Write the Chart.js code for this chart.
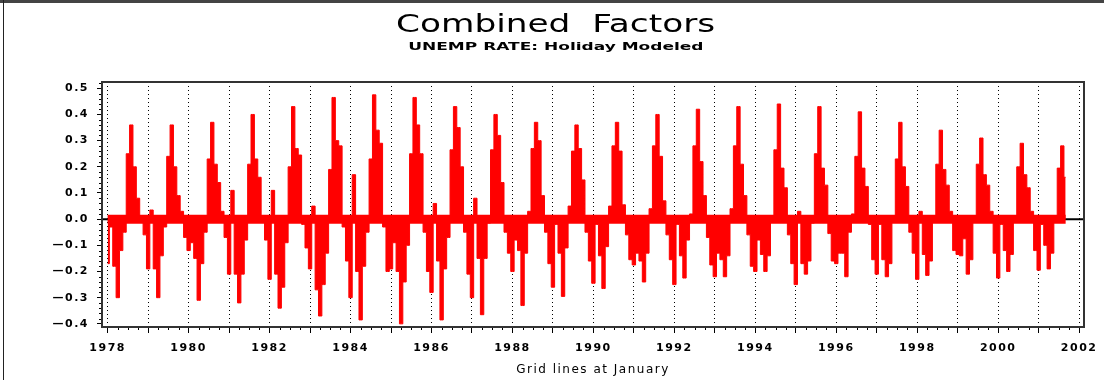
<!DOCTYPE html>
<html>
<head>
<meta charset="utf-8">
<script src="https://cdn.jsdelivr.net/npm/chart.js@4.4.0/dist/chart.umd.min.js"></script>
<style>
  html, body { margin: 0; padding: 0; background: #fff; }
  #wrap { position: relative; width: 1104px; height: 380px; overflow: hidden; }
  #frameTop { position: absolute; left: 0; top: 0; width: 1104px; height: 3px; background: #444; }
  #frameLeft { position: absolute; left: 3px; top: 0; width: 1px; height: 380px; background: #222; }
  .title { position: absolute; left: 4px; width: 1104px; text-align: center; white-space: nowrap; color: #000; }
  .title span { display: inline-block; }
  #t1 { top: 9px; font: 24px "DejaVu Sans", sans-serif; line-height: 30px; }
  #t1 span { transform: scaleX(1.43); }
  #t2 { top: 40px; font: bold 10px "DejaVu Sans", sans-serif; line-height: 14px; }
  #t2 span { transform: scaleX(1.7); }
  canvas { position: absolute; left: 0; top: 0; }
</style>
</head>
<body>
<div id="wrap">
  <canvas id="factors-chart" width="1104" height="380"></canvas>
  <div id="frameTop"></div>
  <div id="frameLeft"></div>
  <div class="title" id="t1"><span>Combined&nbsp; Factors</span></div>
  <div class="title" id="t2"><span>UNEMP RATE: Holiday Modeled</span></div>
</div>
<script>
// monthly combined factors, Jan 1978 .. Sep 2001
const startYear = 1978;
const factorValues = [
    -0.17, -0.03, -0.18, -0.30, -0.12, -0.05, 0.25, 0.36, 0.20, 0.08, 0.01, -0.06,      // 1978
    -0.19, 0.035, -0.19, -0.30, -0.14, -0.03, 0.24, 0.36, 0.20, 0.09, 0.03, -0.07,      // 1979
    -0.12, -0.09, -0.15, -0.31, -0.17, -0.05, 0.23, 0.37, 0.21, 0.14, 0.03, -0.07,      // 1980
    -0.21, 0.11, -0.21, -0.32, -0.21, -0.08, 0.21, 0.40, 0.23, 0.16, 0.01, -0.08,       // 1981
    -0.23, 0.11, -0.21, -0.34, -0.26, -0.09, 0.20, 0.43, 0.27, 0.245, -0.02, -0.11,     // 1982
    -0.19, 0.05, -0.27, -0.37, -0.25, -0.13, 0.19, 0.465, 0.30, 0.28, -0.03, -0.16,     // 1983
    -0.30, 0.17, -0.20, -0.385, -0.18, -0.05, 0.23, 0.475, 0.34, 0.29, -0.03, -0.20,    // 1984
    -0.19, -0.09, -0.20, -0.40, -0.24, -0.10, 0.25, 0.465, 0.36, 0.25, -0.05, -0.20,    // 1985
    -0.28, 0.06, -0.16, -0.385, -0.19, -0.07, 0.265, 0.43, 0.35, 0.20, -0.05, -0.21,    // 1986
    -0.30, 0.08, -0.15, -0.365, -0.15, -0.015, 0.265, 0.40, 0.32, 0.14, -0.05, -0.13,   // 1987
    -0.20, -0.08, -0.12, -0.33, -0.13, 0.03, 0.27, 0.37, 0.30, 0.09, -0.05, -0.17,      // 1988
    -0.26, -0.02, -0.13, -0.295, -0.11, 0.05, 0.26, 0.36, 0.27, 0.15, -0.05, -0.16,     // 1989
    -0.245, -0.02, -0.14, -0.265, -0.105, 0.05, 0.28, 0.37, 0.26, 0.055, -0.06, -0.155, // 1990
    -0.175, -0.13, -0.16, -0.24, -0.13, 0.04, 0.28, 0.40, 0.24, 0.07, -0.06, -0.155,    // 1991
    -0.25, -0.02, -0.14, -0.225, -0.08, 0.02, 0.28, 0.42, 0.22, 0.09, -0.07, -0.175,    // 1992
    -0.22, -0.13, -0.155, -0.22, -0.14, 0.04, 0.28, 0.43, 0.21, 0.09, -0.06, -0.18,     // 1993
    -0.20, -0.08, -0.135, -0.20, -0.14, -0.01, 0.265, 0.44, 0.195, 0.12, -0.06, -0.17,  // 1994
    -0.25, 0.03, -0.17, -0.21, -0.16, -0.015, 0.25, 0.43, 0.195, 0.13, -0.055, -0.16,   // 1995
    -0.17, -0.13, -0.13, -0.22, -0.05, 0.02, 0.24, 0.41, 0.195, 0.125, -0.02, -0.155,   // 1996
    -0.21, -0.02, -0.155, -0.22, -0.17, 0.01, 0.23, 0.37, 0.20, 0.125, -0.05, -0.13,    // 1997
    -0.23, 0.03, -0.135, -0.215, -0.16, -0.01, 0.21, 0.34, 0.19, 0.13, 0.03, -0.12,     // 1998
    -0.135, -0.14, -0.075, -0.21, -0.155, -0.01, 0.21, 0.31, 0.17, 0.13, 0.03, -0.13,   // 1999
    -0.225, -0.02, -0.12, -0.20, -0.135, -0.01, 0.20, 0.29, 0.17, 0.12, 0.03, -0.12,    // 2000
    -0.195, -0.02, -0.10, -0.19, -0.13, -0.01, 0.195, 0.28, 0.16                        // 2001
];
const labelYears = [1978, 1980, 1982, 1984, 1986, 1988, 1990, 1992, 1994, 1996, 1998, 2000, 2002];
const yTickValues = [-0.4, -0.3, -0.2, -0.1, 0.0, 0.1, 0.2, 0.3, 0.4, 0.5];

let points = factorValues.map((v, i) => ({ x: startYear + i / 12, y: v }));
let band = [{ x: points[0].x, y: 0 }, { x: points[points.length - 1].x, y: 0 }];

Chart.defaults.font.family = '"DejaVu Sans", sans-serif';
Chart.defaults.color = '#000';

// zero line, minor ticks and the plot box
const framePlugin = {
    id: 'framePlugin',
    beforeDraw(chart) {
        chart.ctx.letterSpacing = '1.5px';
    },
    beforeDatasetsDraw(chart) {
        const { ctx, chartArea: a, scales: { y } } = chart;
        let y0 = y.getPixelForValue(0);
        ctx.save();
        ctx.strokeStyle = '#000';
        ctx.lineWidth = 2;
        ctx.beginPath();
        ctx.moveTo(a.left, y0);
        ctx.lineTo(a.right, y0);
        ctx.stroke();
        ctx.restore();
    },
    afterDraw(chart) {
        const { ctx, chartArea: a, scales: { x, y } } = chart;
        ctx.save();
        ctx.strokeStyle = '#000';
        ctx.lineWidth = 1;
        ctx.beginPath();
        for (let yr = Math.floor(x.min); yr < x.max; yr++) {
            for (let q = 1; q < 4; q++) {
                let v = yr + q / 4;
                if (v < x.min || v > x.max) continue;
                let px = Math.round(x.getPixelForValue(v)) + 0.5;
                ctx.moveTo(px, a.bottom);
                ctx.lineTo(px, a.bottom + 3);
            }
        }
        for (let k = -21; k <= 26; k++) {
            if (k % 5 === 0) continue;
            let v = k * 0.02;
            if (v < y.min || v > y.max) continue;
            let py = Math.round(y.getPixelForValue(v)) + 0.5;
            ctx.moveTo(a.left - 3, py);
            ctx.lineTo(a.left, py);
        }
        ctx.stroke();
        ctx.strokeStyle = '#333';
        ctx.lineWidth = 2;
        ctx.strokeRect(a.left, a.top, a.right - a.left, a.bottom - a.top);
        ctx.restore();
    }
};

let chart = new Chart(document.getElementById('factors-chart').getContext('2d'), {
    type: 'line',
    data: {
        datasets: [{
            // needles drawn as a stepped area down to zero
            data: points,
            stepped: 'middle',
            fill: 'origin',
            backgroundColor: '#ff0000',
            borderColor: '#ff0000',
            borderWidth: 1,
            pointRadius: 0,
            order: 1
        }, {
            data: band,
            borderColor: '#ff0000',
            borderWidth: 9,
            pointRadius: 0,
            borderCapStyle: 'butt',
            fill: false,
            order: 2
        }]
    },
    options: {
        responsive: false,
        devicePixelRatio: 1,
        animation: false,
        layout: { padding: { left: 0, right: 20, top: 82, bottom: 0 } },
        plugins: {
            legend: { display: false },
            title: { display: false },
            tooltip: { enabled: false }
        },
        scales: {
            x: {
                type: 'linear',
                position: 'bottom',
                min: 1977.86,
                max: 2002.12,
                grid: {
                    color: '#000',
                    lineWidth: 1,
                    drawTicks: true,
                    tickLength: 6,
                    tickColor: '#000',
                    tickBorderDash: []
                },
                border: { display: false, dash: [1, 3] },
                ticks: {
                    stepSize: 1,
                    includeBounds: false,
                    autoSkip: false,
                    maxRotation: 0,
                    padding: 9,
                    font: { size: 11, weight: 'bold' },
                    callback: (v) => labelYears.includes(v) ? String(v) : ''
                },
                title: {
                    display: true,
                    text: 'Grid lines at January',
                    font: { size: 12 },
                    padding: { top: 0, bottom: 3 }
                },
                afterFit: (s) => { s.height = 53; }
            },
            y: {
                type: 'linear',
                min: -0.412,
                max: 0.524,
                grid: {
                    drawOnChartArea: false,
                    drawTicks: true,
                    tickLength: 5,
                    tickColor: '#000'
                },
                border: { display: false },
                afterBuildTicks: (s) => { s.ticks = yTickValues.map(v => ({ value: v })); },
                ticks: {
                    padding: 8,
                    font: { size: 11, weight: 'bold' },
                    callback: (v) => Math.abs(v) < 1e-9 ? '0.0' : (v < 0 ? '\u2014' + Math.abs(v).toFixed(1) : v.toFixed(1))
                },
                afterFit: (s) => { s.width = 102; }
            }
        }
    },
    plugins: [framePlugin]
});
</script>
</body>
</html>
